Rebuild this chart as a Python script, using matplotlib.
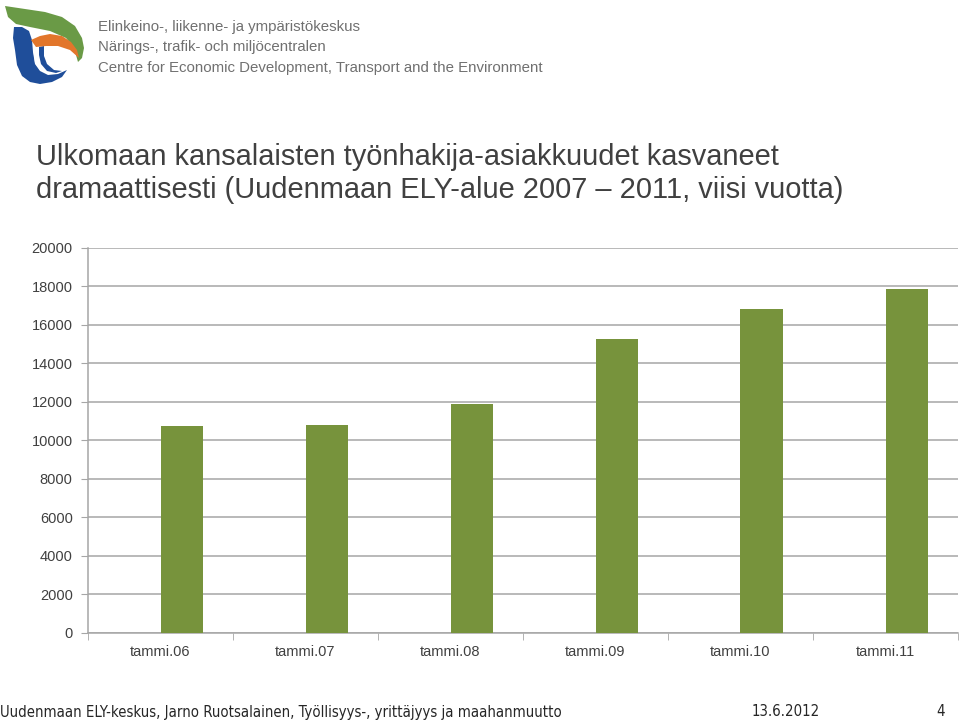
import numpy as np
import matplotlib
matplotlib.use("Agg")
import matplotlib.pyplot as plt
from matplotlib.patches import Polygon

# data
categories = ["tammi.06", "tammi.07", "tammi.08", "tammi.09", "tammi.10", "tammi.11"]
values = [10720, 10800, 11880, 15250, 16800, 17850]
y_ticks = [0, 2000, 4000, 6000, 8000, 10000, 12000, 14000, 16000, 18000, 20000]

title_text = ("Ulkomaan kansalaisten työnhakija-asiakkuudet kasvaneet\n"
              "dramaattisesti (Uudenmaan ELY-alue 2007 \u2013 2011, viisi vuotta)")
logo_lines = ["Elinkeino-, liikenne- ja ympäristökeskus",
              "Närings-, trafik- och miljöcentralen",
              "Centre for Economic Development, Transport and the Environment"]
footer_left = "Uudenmaan ELY-keskus, Jarno Ruotsalainen, Työllisyys-, yrittäjyys ja maahanmuutto"
footer_date = "13.6.2012"
footer_page = "4"

plt.rcParams['font.family'] = ['Liberation Sans', 'DejaVu Sans']

W, H = 960, 720
fig = plt.figure(figsize=(9.6, 7.2), dpi=100)
fig.patch.set_facecolor("white")

# --- logo (rough shapes in pixel coords) ---
lax = fig.add_axes([0, 1 - 90 / H, 100 / W, 90 / H])
lax.set_xlim(0, 100)
lax.set_ylim(90, 0)
lax.axis("off")
green = [(5, 6), (25, 9), (45, 12), (62, 17), (75, 26), (82, 38), (84, 48), (82, 58), (78, 62),
         (74, 48), (66, 38), (50, 31), (30, 27), (16, 24), (8, 17)]
blue_outer = [(14, 27), (22, 27), (29, 31), (32, 40), (33, 52), (35, 64), (40, 71), (48, 75),
              (58, 74), (67, 70), (62, 77), (52, 82), (40, 84), (30, 82), (22, 76), (17, 65),
              (15, 50), (13, 38)]
hole = [(33, 44), (45, 46), (58, 52), (66, 62), (66, 69), (58, 73), (48, 74), (40, 70),
        (35, 63), (33.5, 52)]
blue_inner = [(39, 47), (44, 46), (44, 56), (47, 64), (54, 70), (62, 71), (56, 73), (47, 71),
              (41, 64), (39, 55)]
orange = [(31, 40), (40, 36), (50, 34), (62, 36), (71, 42), (77, 50), (79, 58), (70, 50),
          (58, 46), (46, 46), (36, 47)]
lax.add_patch(Polygon(green, closed=True, color="#6a9a46", lw=0))
lax.add_patch(Polygon(blue_outer, closed=True, color="#1f4e9a", lw=0))
lax.add_patch(Polygon(hole, closed=True, color="white", lw=0))
lax.add_patch(Polygon(blue_inner, closed=True, color="#1f4e9a", lw=0))
lax.add_patch(Polygon(orange, closed=True, color="#e2762b", lw=0))

for i, line in enumerate(logo_lines):
    fig.text(98 / W, 1 - (27 + i * 20.5) / H, line, fontsize=10.8, color="#707070",
             va="center", ha="left")

# --- title ---
fig.text(36 / W, 1 - 143 / H, title_text, fontsize=20.9, color="#404040",
         va="top", ha="left", linespacing=1.23)

# --- chart ---
ax = fig.add_axes([88 / W, 1 - 632.7 / H, 870 / W, 385 / H])
x = np.arange(len(categories))
ax.bar(x + 0.145, values, width=0.29, color="#77933C", zorder=3)
ax.set_xlim(-0.5, len(categories) - 0.5)
ax.set_ylim(0, 20000)
ax.set_yticks(y_ticks)
ax.set_yticklabels([str(v) for v in y_ticks])
ax.set_xticks(x)
ax.set_xticklabels(categories)
ax.set_xticks(np.arange(-0.5, len(categories)), minor=True)
ax.tick_params(axis="x", which="major", length=0, pad=9, labelsize=10.5, labelcolor="#404040")
ax.tick_params(axis="x", which="minor", length=5, color="#a6a6a6", direction="out")
ax.tick_params(axis="y", length=5, color="#a6a6a6", pad=6, labelsize=10.5, labelcolor="#404040")
ax.yaxis.grid(True, color="#a6a6a6", linewidth=1.1, zorder=0)
for s in ["top", "right"]:
    ax.spines[s].set_visible(False)
for s in ["left", "bottom"]:
    ax.spines[s].set_color("#a6a6a6")
    ax.spines[s].set_linewidth(1.1)

# --- footer ---
foot = dict(family=['DejaVu Sans'], stretch="condensed", fontsize=10.7, color="#262626", va="center")
fig.text(0 / W, 1 - 712 / H, footer_left, ha="left", **foot)
fig.text(752 / W, 1 - 712 / H, footer_date, ha="left", **foot)
fig.text(945 / W, 1 - 712 / H, footer_page, ha="right", **foot)

fig.savefig("out.png", dpi=100)
